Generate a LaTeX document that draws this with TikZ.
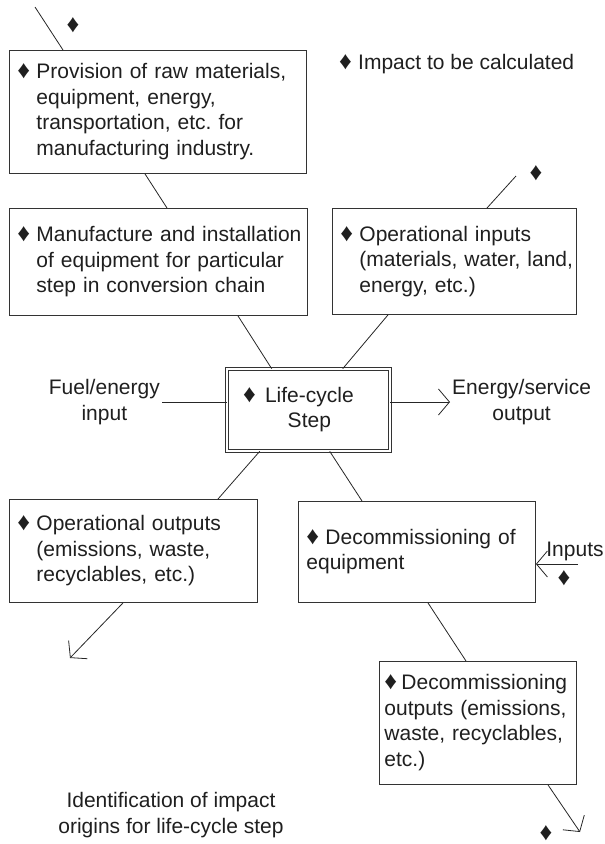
\documentclass[tikz,border=0pt]{standalone}
\usepackage{fontspec}
\setmainfont{Liberation Sans}
\usetikzlibrary{arrows.meta}
\frenchspacing

% mark for an impact to be calculated
\newcommand{\dmd}{{\fontsize{25}{25}\selectfont ♦}}
\newcommand{\imp}{\makebox[19pt][l]{\dmd}}

\begin{document}
\begin{tikzpicture}[x=1pt, y=-1pt,
every node/.style={font=\fontsize{21}{25.5}\selectfont, text=black!88},
impactbox/.style={draw=black!80, line width=0.9pt, anchor=north west, inner xsep=8pt, inner ysep=0pt, align=left},
stepbox/.style={draw=black!80, line width=0.6pt, double, double distance=2.4pt, inner ysep=0pt, align=left},
link/.style={draw=black!85, line width=0.8pt},
flow/.style={link, -{Straight Barb[length=11pt, width=26pt]}},
]
\useasboundingbox (0,0) rectangle (605,844);

%Nodes
\node[impactbox, text width=281pt, minimum height=123pt] (provision) at (9,50)
  {\imp\begin{tabular}[t]{@{}l@{}}Provision of raw materials,\\equipment, energy,\\transportation, etc. for\\manufacturing industry.\end{tabular}};
\node[impactbox, text width=282pt, minimum height=107pt] (manufacture) at (9,208)
  {\imp\begin{tabular}[t]{@{}l@{}}Manufacture and installation\\of equipment for particular\\step in conversion chain\end{tabular}};
\node[impactbox, text width=228pt, minimum height=106pt] (opinputs) at (332,208)
  {\imp\begin{tabular}[t]{@{}l@{}}Operational inputs\\(materials, water, land,\\energy, etc.)\end{tabular}};
\node[stepbox, inner xsep=16pt, text width=131pt, minimum height=82pt] (lifecycle) at (308.5,410)
  {\imp\hspace{3pt}\begin{tabular}[t]{@{}c@{}}Life-cycle\\Step\end{tabular}};
\node[impactbox, text width=232pt, minimum height=103pt] (opoutputs) at (9,499)
  {\imp\begin{tabular}[t]{@{}l@{}}Operational outputs\\(emissions, waste,\\recyclables, etc.)\end{tabular}};
\node[impactbox, text width=221pt, minimum height=101pt] (decom) at (298,501)
  {\begin{tabular}[t]{@{}l@{}}\imp Decommissioning of\\equipment\\ \end{tabular}};
\node[impactbox, inner xsep=5pt, text width=187pt, minimum height=123pt] (decomout) at (379,661)
  {\begin{tabular}[t]{@{}l@{}}\makebox[17pt][l]{\dmd}Decommissioning\\outputs (emissions,\\waste, recyclables,\\etc.)\end{tabular}};

\node[align=center, anchor=east, inner sep=2pt] (fuel) at (162,402) {Fuel/energy\\input};
\node[align=center, anchor=west, inner sep=2pt] (service) at (450,402) {Energy/service\\output};
\node[inner sep=0pt] (inputs) at (575,551) {Inputs};
\node[anchor=west, inner sep=0pt] (legend) at (339,64) {\imp Impact to be calculated};
\node[align=center] (caption) at (171,815) {Identification of impact\\origins for life-cycle step};

\node[inner sep=0pt] (topmark) at (73,25) {\dmd};
\node[inner sep=0pt] (inputmark) at (536,173) {\dmd};
\node[inner sep=0pt] (inputsmark) at (564,578) {\dmd};
\node[inner sep=0pt] (endmark) at (546,833) {\dmd};

\coordinate (topin) at (35,7);
\coordinate (opin) at (516,176);
\coordinate (decomin) at (578,564);
\coordinate (opout) at (70,658);
\coordinate (decomend) at (580,832);

%Lines
\draw[link] (topin) -- ([xshift=54pt]provision.north west);
\draw[link] ([xshift=136pt]provision.south west) -- ([xshift=158pt]manufacture.north west);
\draw[link] ([xshift=229pt]manufacture.south west) -- ([xshift=45pt]lifecycle.north west);
\draw[link] (opin) -- ([xshift=155pt]opinputs.north west);
\draw[link] ([xshift=56pt]opinputs.south west) -- ([xshift=116pt]lifecycle.north west);
\draw[link] (fuel.east) -- (fuel.east -| lifecycle.west);
\draw[flow] (service.west -| lifecycle.east) -- (service.west);
\draw[link] ([xshift=33pt]lifecycle.south west) -- ([xshift=209pt]opoutputs.north west);
\draw[link] ([xshift=103pt]lifecycle.south west) -- ([xshift=64pt]decom.north west);
\draw[flow] ([xshift=114pt]opoutputs.south west) -- (opout);
\draw[flow] (decomin) -- (decomin -| decom.east);
\draw[link] ([xshift=130pt]decom.south west) -- ([xshift=87pt]decomout.north west);
\draw[flow] ([xshift=169pt]decomout.south west) -- (decomend);
\end{tikzpicture}
\end{document}
